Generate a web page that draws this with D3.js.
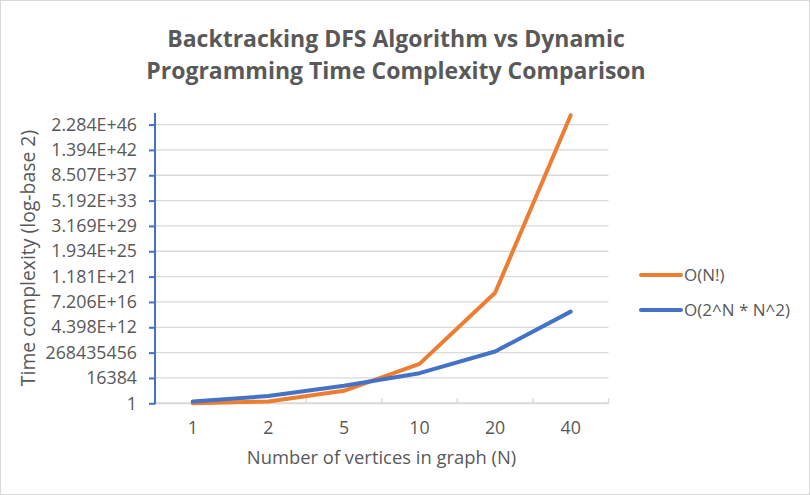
<!DOCTYPE html>
<html>
<head>
<meta charset="utf-8">
<script src="https://cdn.jsdelivr.net/npm/d3@7"></script>
<style>
  html, body { margin: 0; padding: 0; background: #fff; }
  svg { display: block; }
  text { font-family: "Open Sans", "Liberation Sans", sans-serif; fill: #595959; }
</style>
</head>
<body>
<svg id="chart" width="810" height="495"></svg>
<script>
// ---- data ----
const categories = ["1", "2", "5", "10", "20", "40"];
const factorialValues = [1, 2, 120, 3628800, 2.432902e18, 8.159153e47];
const dpValues = [2, 16, 800, 102400, 419430400, 1.759219e15];
const seriesNames = ["O(N!)", "O(2^N * N^2)"];
const yTickValues = [1, 16384, 268435456, 4.398e12, 7.206e16, 1.181e21, 1.934e25, 3.169e29, 5.192e33, 8.507e37, 1.394e42, 2.284e46];
const yTickLabels = ["1", "16384", "268435456", "4.398E+12", "7.206E+16", "1.181E+21", "1.934E+25", "3.169E+29", "5.192E+33", "8.507E+37", "1.394E+42", "2.284E+46"];
const yMax = Math.pow(2, 160.4);
const titleLines = ["Backtracking DFS Algorithm vs Dynamic", "Programming Time Complexity Comparison"];
const xTitle = "Number of vertices in graph (N)";
const yTitle = "Time complexity (log-base 2)";

const colors = ["#ed7d31", "#4472c4"];

const svg = d3.select("#chart");
const W = 810, H = 495;
const plot = { left: 155, right: 608.5, top: 113, bottom: 403.3 };

// border
svg.append("rect").attr("x", 0.5).attr("y", 0.5).attr("width", W - 1).attr("height", H - 1)
  .attr("fill", "#fff").attr("stroke", "#d9d9d9").attr("stroke-width", 1);

const x = d3.scaleBand().domain(categories).range([plot.left, plot.right]).padding(0);
const y = d3.scaleLog().base(2).domain([1, yMax]).range([plot.bottom, plot.top]);

// gridlines
svg.append("g").selectAll("line").data(yTickValues.slice(1)).join("line")
  .attr("x1", plot.left).attr("x2", plot.right)
  .attr("y1", d => y(d)).attr("y2", d => y(d))
  .attr("stroke", "#d9d9d9").attr("stroke-width", 1.3);

// x axis
const xAxis = d3.axisBottom(x).tickSize(0).tickPadding(0);
const gx = svg.append("g").attr("transform", `translate(0,${plot.bottom})`).call(xAxis);
gx.select(".domain").remove();
gx.selectAll("text").attr("dy", null).attr("y", 31).style("font-size", "17.8px").attr("fill", "#595959");
svg.append("line").attr("x1", plot.left).attr("x2", plot.right)
  .attr("y1", plot.bottom).attr("y2", plot.bottom).attr("stroke", "#d9d9d9").attr("stroke-width", 2);
// category boundary ticks (inside, upward)
const boundaries = categories.map(c => x(c) + x.bandwidth());
svg.append("g").selectAll("line").data(boundaries).join("line")
  .attr("x1", d => d).attr("x2", d => d)
  .attr("y1", plot.bottom - 5).attr("y2", plot.bottom)
  .attr("stroke", "#d9d9d9").attr("stroke-width", 1.5);

// y axis
const yAxis = d3.axisLeft(y).tickValues(yTickValues)
  .tickFormat((d, i) => yTickLabels[i]).tickSize(6).tickPadding(12);
const gy = svg.append("g").attr("transform", `translate(${plot.left},0)`).call(yAxis);
gy.select(".domain").attr("d", `M0,${plot.top}V${plot.bottom + 1}`).attr("stroke", "#4472c4").attr("stroke-width", 2);
gy.selectAll(".tick line").attr("stroke", "#4472c4").attr("stroke-width", 2);
gy.selectAll(".tick text").style("font-size", "17.8px").attr("fill", "#595959");

// lines
const line = d3.line().x((d, i) => x(categories[i]) + x.bandwidth() / 2).y(d => y(d));
[factorialValues, dpValues].forEach((vals, si) => {
  svg.append("path").datum(vals).attr("d", line)
    .attr("fill", "none").attr("stroke", colors[si]).attr("stroke-width", 4)
    .attr("stroke-linecap", "round").attr("stroke-linejoin", "round");
});

// legend
const legY = [275, 310];
seriesNames.forEach((name, i) => {
  svg.append("line").attr("x1", 641).attr("x2", 681).attr("y1", legY[i]).attr("y2", legY[i])
    .attr("stroke", colors[i]).attr("stroke-width", 4).attr("stroke-linecap", "round");
  svg.append("text").attr("x", 684).attr("y", legY[i]).attr("dy", "0.35em")
    .style("font-size", "17px").text(name);
});

// title
titleLines.forEach((t, i) => {
  svg.append("text").attr("x", 396).attr("y", 47 + i * 32).attr("text-anchor", "middle")
    .style("font-size", "23px").style("font-weight", "bold").text(t);
});

// axis titles
svg.append("text").attr("x", 381.5).attr("y", 464).attr("text-anchor", "middle")
  .style("font-size", "18.4px").text(xTitle);
svg.append("text").attr("transform", "translate(35,258) rotate(-90)").attr("text-anchor", "middle")
  .style("font-size", "19.4px").text(yTitle);
</script>
</body>
</html>
